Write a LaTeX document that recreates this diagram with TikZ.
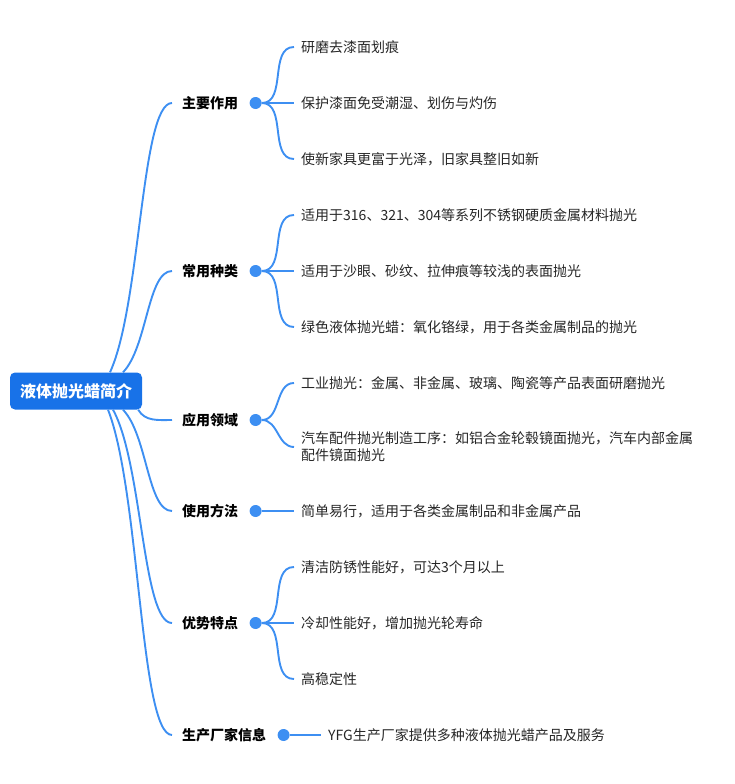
\documentclass[tikz,border=0pt]{standalone}
\usepackage{fontspec}
\setmainfont{Noto Sans CJK SC}
\usetikzlibrary{positioning,calc}
\definecolor{rootblue}{RGB}{24,114,232}
\definecolor{linkblue}{RGB}{61,143,242}
\tikzset{
  rootbox/.style={fill=rootblue,rounded corners=5pt,text=white,inner sep=0pt,
    minimum width=132pt,minimum height=37pt,font=\fontsize{16}{18}\selectfont\bfseries},
  topic/.style={anchor=west,inner xsep=10pt,inner ysep=3pt,font=\fontsize{14}{16}\selectfont\bfseries},
  hub/.style={circle,fill=linkblue,minimum size=12pt,inner sep=0pt},
  leaf/.style={anchor=west,inner xsep=7pt,align=left,text=black!85,font=\fontsize{14}{17}\selectfont},
  link/.style={draw=linkblue,line width=1.9pt},
}
% trunk from the root box to a topic
\newcommand{\trunk}[2]{%
  \draw[link] let \p1=(#1), \p2=(#2) in (\p1) .. controls
    ({\x1+0.5*(\x2-\x1)},{\y1+0.25*(\y2-\y1)}) and ({\x1+0.5*(\x2-\x1)},\y2) .. (\p2);}
\begin{document}
\begin{tikzpicture}[x=1pt,y=-1pt]
  \useasboundingbox (0,0) rectangle (734,784);
  \node[rootbox] (root) at (76,391) {液体抛光蜡简介};

  % topics and their hubs
  \node[topic] (t1) at (172,103) {主要作用};
  \node[topic] (t2) at (172,271) {常用种类};
  \node[topic] (t3) at (172,420) {应用领域};
  \node[topic] (t4) at (172,511) {使用方法};
  \node[topic] (t5) at (172,623) {优势特点};
  \node[topic] (t6) at (172,735) {生产厂家信息};
  \foreach \t in {1,...,6}
    \node[hub,right=1pt of t\t] (d\t) {};

  % leaves
  \node[leaf] (l11) at (294,47) {研磨去漆面划痕};
  \node[leaf] (l12) at (294,103) {保护漆面免受潮湿、划伤与灼伤};
  \node[leaf] (l13) at (294,159) {使新家具更富于光泽，旧家具整旧如新};
  \node[leaf] (l21) at (294,215) {适用于316、321、304等系列不锈钢硬质金属材料抛光};
  \node[leaf] (l22) at (294,271) {适用于沙眼、砂纹、拉伸痕等较浅的表面抛光};
  \node[leaf] (l23) at (294,327) {绿色液体抛光蜡：氧化铬绿，用于各类金属制品的抛光};
  \node[leaf] (l31) at (294,383) {工业抛光：金属、非金属、玻璃、陶瓷等产品表面研磨抛光};
  \node[leaf] (l32) at (294,447) {汽车配件抛光制造工序：如铝合金轮毂镜面抛光，汽车内部金属\\配件镜面抛光};
  \node[leaf] (l41) at (294,511) {简单易行，适用于各类金属制品和非金属产品};
  \node[leaf] (l51) at (294,567) {清洁防锈性能好，可达3个月以上};
  \node[leaf] (l52) at (294,623) {冷却性能好，增加抛光轮寿命};
  \node[leaf] (l53) at (294,679) {高稳定性};
  \node[leaf] (l61) at (321,735) {YFG生产厂家提供多种液体抛光蜡产品及服务};

  % root trunks
  \coordinate (r1) at ($(root.north)+(34,0)$);
  \coordinate (r2) at ($(root.north)+(47,0)$);
  \coordinate (r3) at ($(root.south east)+(-4,0)$);
  \coordinate (r4) at ($(root.south)+(47,0)$);
  \coordinate (r5) at ($(root.south)+(37,0)$);
  \coordinate (r6) at ($(root.south)+(32,0)$);
  \trunk{r1}{t1.west}
  \trunk{r2}{t2.west}
  \draw[link] (r3) to[out=-60,in=180] (t3.west);
  \trunk{r4}{t4.west}
  \trunk{r5}{t5.west}
  \trunk{r6}{t6.west}

  % hub to leaves
  \foreach \d/\l in {d1/l11,d1/l12,d1/l13,d2/l21,d2/l22,d2/l23,d3/l31,d3/l32,
                     d4/l41,d5/l51,d5/l52,d5/l53,d6/l61}
    \draw[link] (\d.east) to[out=0,in=180] (\l.west);
\end{tikzpicture}
\end{document}
